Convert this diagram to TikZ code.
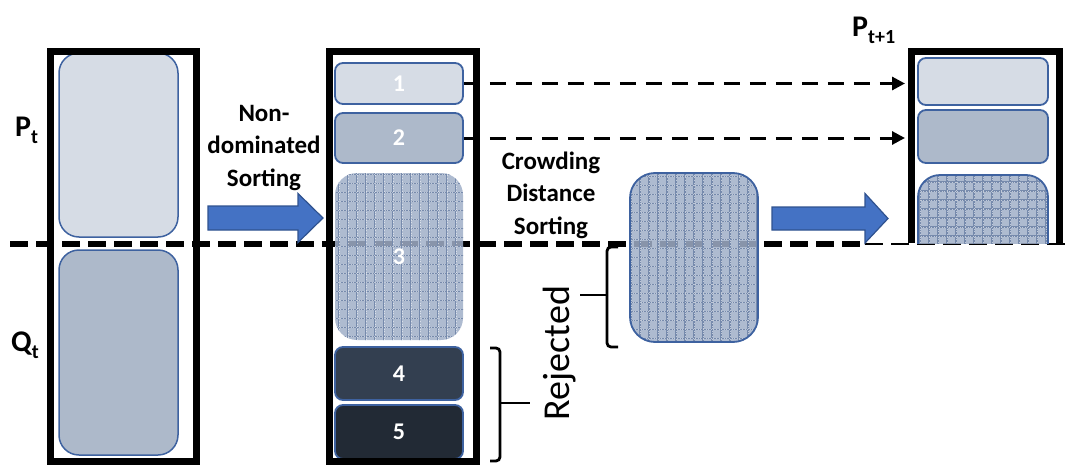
\documentclass[tikz,border=0pt]{standalone}
\usepackage{fontspec}
\setmainfont{Carlito}
\usetikzlibrary{arrows.meta}

% population name with a lowered index
\newcommand{\popname}[2]{#1\raisebox{-7pt}{\fontsize{20}{21}\selectfont #2}}

\begin{document}
\begin{tikzpicture}[x=1pt, y=-1pt,
  colframe/.style={line width=7pt, black},
  frontbox/.style={draw=boxline, line width=1.8pt, rounded corners=8pt,
    minimum width=128pt, inner sep=0pt, text=white,
    font=\fontsize{24}{26}\selectfont\bfseries},
  popbox/.style={draw=boxline, line width=1.5pt, rounded corners=20pt,
    minimum width=119pt, inner sep=0pt},
  meshed/.style={fill=meshbase, fill opacity=0.85, text opacity=1,
    path picture={
      \draw[meshline, line width=1.1pt, step=9pt]
        ([shift={(-9pt,-9pt)}]path picture bounding box.south west) grid
        ([shift={(9pt,9pt)}]path picture bounding box.north east);
      \draw[white, opacity=0.55, line width=0.6pt, dotted, step=9pt, shift={(4.5pt,4.5pt)}]
        ([shift={(-18pt,-18pt)}]path picture bounding box.south west) grid
        ([shift={(9pt,9pt)}]path picture bounding box.north east);
    }},
  steplabel/.style={align=center, inner sep=0pt,
    font=\fontsize{25}{32.5}\selectfont\bfseries},
  poplabel/.style={anchor=base west, inner sep=0pt,
    font=\fontsize{30}{32}\selectfont\bfseries},
  passon/.style={line width=3pt, dash pattern=on 16pt off 10pt,
    -{Triangle[length=13pt,width=13pt]}, shorten >=13pt},
  bracket/.style={line width=2.8pt, rounded corners=4pt},
  blockarrow/.style={fill=arrowfill, draw=arrowline, line width=1.2pt},
]

  \definecolor{boxline}{RGB}{62, 98, 160}
  \definecolor{lightfill}{RGB}{214, 220, 229}
  \definecolor{midfill}{RGB}{173, 185, 202}
  \definecolor{darkfill}{RGB}{51, 63, 80}
  \definecolor{darkerfill}{RGB}{34, 42, 53}
  \definecolor{meshbase}{RGB}{160, 175, 200}
  \definecolor{meshline}{RGB}{118, 138, 172}
  \definecolor{arrowfill}{RGB}{68, 114, 196}
  \definecolor{arrowline}{RGB}{47, 82, 143}

  \useasboundingbox (0,0) rectangle (1069,466);

  % Cut line between kept and rejected
  \draw[line width=5.5pt, dash pattern=on 18pt off 8pt] (10,244) -- (865,244);
  \draw[line width=1.5pt, dash pattern=on 18pt off 8pt] (865,244) -- (1069,244);

  % Combined population (parents and offspring)
  \node[popbox, fill=lightfill, minimum height=184pt] (pt) at (118.5,145) {};
  \node[popbox, fill=midfill, minimum height=205pt] (qt) at (118.5,352.5) {};

  % Sorted fronts
  \node[frontbox, fill=lightfill, minimum height=41pt] (s1) at (399,83.5) {1};
  \node[frontbox, fill=midfill, minimum height=50pt] (s2) at (399,138) {2};
  \node[frontbox, meshed, draw=none, rounded corners=22pt, minimum height=167pt] (s3) at (399,256.5) {3};
  \node[frontbox, fill=darkfill, minimum height=53pt] (s4) at (399,373.5) {4};
  \node[frontbox, fill=darkerfill, minimum height=54pt] (s5) at (399,432) {5};

  % Front 3 split by crowding distance
  \node[frontbox, meshed, rounded corners=25pt, minimum height=169pt] (cd) at (694,257.5) {};

  % Next population
  \node[frontbox, fill=lightfill, minimum width=130pt, minimum height=47pt] (n1) at (983,81.5) {};
  \node[frontbox, fill=midfill, minimum width=130pt, minimum height=53pt] (n2) at (983,136.5) {};
  \begin{scope}
    \clip (905,150) rectangle (1069,243);
    \node[frontbox, meshed, rounded corners=22pt, minimum width=130pt, minimum height=104pt] (n3) at (983,227) {};
  \end{scope}

  % Column frames
  \draw[colframe] (50.5,51) rectangle (196,461.5);
  \draw[colframe] (329,51) rectangle (476,461.5);
  \draw[colframe] (911.5,243) -- (911.5,51.5) -- (1059,51.5) -- (1059,243);

  % Fronts 1 and 2 carried over
  \coordinate (nextedge) at (918,0);
  \draw[passon] (s1.east) -- (s1.east -| nextedge);
  \draw[passon] (s2.east) -- (s2.east -| nextedge);

  % Block arrows
  \draw[blockarrow] (208,206) -- (298,206) -- (298,193.5) -- (323,218)
    -- (298,242.5) -- (298,230) -- (208,230) -- cycle;
  \draw[blockarrow] (772,207) -- (865,207) -- (865,193.5) -- (888,218.5)
    -- (865,243) -- (865,230) -- (772,230) -- cycle;

  % Brackets for rejected members
  \draw[bracket] (618,247) -- (607,247) -- (607,347) -- (618,347);
  \draw[bracket] (607,295) -- (580,295);
  \draw[bracket] (490,348) -- (500,348) -- (500,461) -- (490,461);
  \draw[bracket] (500,403) -- (530,403);

  % Labels
  \node[poplabel] (ptlabel) at (15,136) {\popname{P}{t}};
  \node[poplabel] (qtlabel) at (11,351) {\popname{Q}{t}};
  \node[poplabel] (nextlabel) at (852,36) {\popname{P}{t+1}};
  \node[steplabel] (ndslabel) at (264,148) {Non-\\dominated\\Sorting};
  \node[steplabel] (cdslabel) at (551,195) {Crowding\\Distance\\Sorting};
  \node[rotate=90, inner sep=0pt, font=\fontsize{38}{40}\selectfont] (rejlabel) at (560,353) {Rejected};

\end{tikzpicture}
\end{document}
